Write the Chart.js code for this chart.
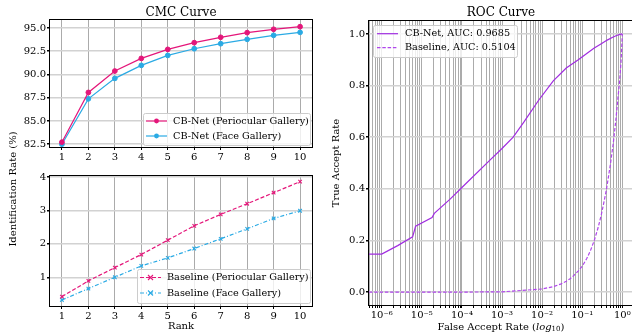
<!DOCTYPE html>
<html>
<head>
<meta charset="utf-8">
<script src="https://cdn.jsdelivr.net/npm/chart.js@4.4.0/dist/chart.umd.min.js"></script>
<style>
  body { margin: 0; background: #fff; width: 632px; height: 333px; position: relative; overflow: hidden; }
  canvas { position: absolute; }
</style>
</head>
<body>
<canvas id="cmcTop" width="320" height="165" style="left:0;top:0"></canvas>
<canvas id="cmcBottom" width="320" height="168" style="left:0;top:165px"></canvas>
<canvas id="roc" width="316" height="333" style="left:320px;top:0"></canvas>
<canvas id="ylab" width="26" height="333" style="left:0;top:0"></canvas>
<script>
// ---- data ----
const ranks = [1, 2, 3, 4, 5, 6, 7, 8, 9, 10];
const cbnetPeriocular = [82.72, 88.07, 90.37, 91.73, 92.70, 93.42, 94.00, 94.50, 94.86, 95.14];
const cbnetFace = [82.50, 87.38, 89.58, 90.98, 92.05, 92.77, 93.31, 93.78, 94.21, 94.53];
const baselinePeriocular = [0.42, 0.89, 1.29, 1.68, 2.11, 2.54, 2.88, 3.20, 3.53, 3.86];
const baselineFace = [0.32, 0.66, 1.00, 1.34, 1.58, 1.86, 2.15, 2.45, 2.76, 2.99];

const cmcTopTicks = [82.5, 85, 87.5, 90, 92.5, 95];
const cmcBottomTicks = [1, 2, 3, 4];

const cbnetFar = [4.8e-7, 1e-6, 2.5e-6, 5.9e-6, 7.0e-6, 1.8e-5, 2.05e-5, 5e-5, 1e-4, 5e-4,
  1e-3, 1.9e-3, 3.5e-3, 8.2e-3, 1.9e-2, 4e-2, 0.08, 0.13, 0.2, 0.3, 0.42, 0.56, 0.72, 0.88, 1.0];
const cbnetTar = [0.147, 0.147, 0.18, 0.214, 0.255, 0.289, 0.305, 0.359, 0.405, 0.511,
  0.556, 0.6, 0.658, 0.743, 0.818, 0.868, 0.9, 0.924, 0.945, 0.962, 0.976, 0.986, 0.994, 0.998, 1.0];
const baselineFar = [4.8e-7, 1e-4, 1e-3, 1e-2, 2e-2, 3e-2, 4e-2, 5e-2, 6e-2, 8e-2, 0.1, 0.13, 0.16, 0.2,
  0.25, 0.3, 0.35, 0.4, 0.5, 0.6, 0.7, 0.77, 0.83, 0.88, 0.93, 0.97, 1.0];
const baselineTar = [0, 0, 0.001, 0.012, 0.022, 0.032, 0.042, 0.052, 0.062, 0.082, 0.1, 0.13, 0.16, 0.2,
  0.25, 0.3, 0.35, 0.395, 0.49, 0.58, 0.675, 0.745, 0.795, 0.84, 0.895, 0.95, 1.0];

const rocYTicks = [0, 0.2, 0.4, 0.6, 0.8, 1.0];
const rocDecades = [1e-7, 1e-6, 1e-5, 1e-4, 1e-3, 1e-2, 1e-1, 1];
const rocMinorSteps = [1, 2, 3, 4, 5, 6, 7, 8, 9];

// ---- styles ----
const serif = '"DejaVu Serif", serif';
Chart.defaults.font.family = serif;
Chart.defaults.font.size = 10;
Chart.defaults.color = '#000';

const PINK = 'rgb(228, 22, 122)';
const BLUE = 'rgb(42, 170, 228)';
const PURPLE = 'rgb(160, 45, 224)';
const PURPLE_LIGHT = 'rgb(176, 70, 236)';
const VGRID = '#ababab';
const HGRID = '#d2d2d2';

const pts = (xs, ys) => xs.map((x, i) => ({ x, y: ys[i] }));

// shared y label of the two CMC panels
(() => {
  const c = document.getElementById('ylab').getContext('2d');
  c.fillStyle = '#000';
  c.font = '10px ' + serif;
  c.textAlign = 'center';
  c.textBaseline = 'middle';
  c.translate(13, 189);
  c.rotate(-Math.PI / 2);
  c.fillText('Identification Rate (%)', 0, 0);
})();

function drawMarker(ctx, style, x, y, r, color, bw) {
  ctx.save();
  ctx.setLineDash([]);
  ctx.strokeStyle = color;
  ctx.fillStyle = color;
  ctx.lineWidth = bw;
  ctx.beginPath();
  if (style === 'crossRot') {
    ctx.moveTo(x - r, y - r); ctx.lineTo(x + r, y + r);
    ctx.moveTo(x - r, y + r); ctx.lineTo(x + r, y - r);
    ctx.stroke();
  } else {
    ctx.arc(x, y, r, 0, Math.PI * 2);
    ctx.fill();
  }
  ctx.restore();
}

// legend box in the style of matplotlib, placed relative to the chart area
function legendPlugin(o) {
  return {
    id: 'boxLegend',
    afterDraw(chart) {
      const { ctx, chartArea: a } = chart;
      const x0 = o.anchor === 'tl' ? a.left + o.insetX : a.right - o.insetX - o.w;
      const y0 = o.anchor === 'tl' ? a.top + o.insetY : a.bottom - o.insetY - o.h;
      ctx.save();
      ctx.beginPath();
      ctx.roundRect(Math.round(x0) + 0.5, Math.round(y0) + 0.5, o.w, o.h, 2);
      ctx.fillStyle = 'rgba(255,255,255,0.8)';
      ctx.fill();
      ctx.strokeStyle = '#cccccc';
      ctx.lineWidth = 1;
      ctx.stroke();
      ctx.font = '9.7px ' + serif;
      ctx.textBaseline = 'middle';
      ctx.textAlign = 'left';
      chart.data.datasets.forEach((ds, i) => {
        const y = y0 + o.rowTop + i * o.rowGap;
        const lx = x0 + o.lineLeft, lx1 = lx + 21;
        ctx.strokeStyle = ds.borderColor;
        ctx.lineWidth = ds.borderWidth;
        ctx.setLineDash(ds.borderDash || []);
        ctx.beginPath();
        ctx.moveTo(lx, y);
        ctx.lineTo(lx1, y);
        ctx.stroke();
        ctx.setLineDash([]);
        if (ds.pointRadius > 0) {
          drawMarker(ctx, ds.pointStyle, (lx + lx1) / 2, y, ds.pointRadius, ds.borderColor, ds.pointBorderWidth);
        }
        ctx.fillStyle = '#000';
        ctx.fillText(ds.label, lx1 + o.textGap, y);
      });
      ctx.restore();
    }
  };
}

// black frame round the axes, title and axis texts
function framePlugin(title, extra) {
  return {
    id: 'frameText',
    afterDatasetsDraw(chart) {
      const { ctx, chartArea: a } = chart;
      ctx.save();
      ctx.strokeStyle = '#000';
      ctx.lineWidth = 1;
      const l = Math.round(a.left) - 0.5, t = Math.round(a.top) - 0.5;
      const r = Math.round(a.right) + 0.5, b = Math.round(a.bottom) + 0.5;
      ctx.strokeRect(l, t, r - l, b - t);
      ctx.restore();
    },
    afterDraw(chart) {
      const { ctx, chartArea: a } = chart;
      ctx.save();
      ctx.fillStyle = '#000';
      ctx.textAlign = 'center';
      ctx.textBaseline = 'middle';
      if (title) {
        ctx.font = '12px ' + serif;
        ctx.fillText(title, (a.left + a.right) / 2, 13);
      }
      if (extra) extra(ctx, a);
      ctx.restore();
    }
  };
}

function cmcScales(yTicks, yMin, yMax, xHeight) {
  return {
    x: {
      type: 'linear', min: 0.55, max: 10.45,
      afterBuildTicks: (s) => { s.ticks = ranks.map(v => ({ value: v })); },
      afterFit: (s) => { s.height = xHeight; },
      ticks: { autoSkip: false, maxRotation: 0, padding: 1, callback: (v) => String(v) },
      grid: { color: VGRID, lineWidth: 1, tickColor: '#000', tickLength: 3 },
      border: { display: false }
    },
    y: {
      min: yMin, max: yMax,
      afterBuildTicks: (s) => { s.ticks = yTicks.map(v => ({ value: v })); },
      afterFit: (s) => { s.width = 50; },
      ticks: { autoSkip: false, padding: 1,
        callback: (v) => (yTicks[yTicks.length - 1] > 10 ? v.toFixed(1) : String(v)) },
      grid: { color: HGRID, lineWidth: 1.5, tickColor: '#000', tickLength: 3 },
      border: { display: false }
    }
  };
}

new Chart(document.getElementById('cmcTop'), {
  type: 'line',
  data: {
    datasets: [
      { label: 'CB-Net (Periocular Gallery)', data: pts(ranks, cbnetPeriocular),
        borderColor: PINK, backgroundColor: PINK, borderWidth: 1.2,
        pointStyle: 'circle', pointRadius: 2.4, pointBorderWidth: 1 },
      { label: 'CB-Net (Face Gallery)', data: pts(ranks, cbnetFace),
        borderColor: BLUE, backgroundColor: BLUE, borderWidth: 1.2,
        pointStyle: 'circle', pointRadius: 2.4, pointBorderWidth: 1 }
    ]
  },
  options: {
    responsive: false, animation: false, events: [],
    layout: { padding: { top: 20, right: 8, left: 0, bottom: 0 } },
    plugins: { legend: { display: false }, tooltip: { enabled: false } },
    scales: cmcScales(cmcTopTicks, 82.2, 95.86, 18)
  },
  plugins: [
    framePlugin('CMC Curve'),
    legendPlugin({ anchor: 'br', insetX: 2, insetY: 2, w: 167, h: 32, rowTop: 8, rowGap: 15, lineLeft: 3, textGap: 6 })
  ]
});

new Chart(document.getElementById('cmcBottom'), {
  type: 'line',
  data: {
    datasets: [
      { label: 'Baseline (Periocular Gallery)', data: pts(ranks, baselinePeriocular),
        borderColor: PINK, backgroundColor: PINK, borderWidth: 1.2, borderDash: [4, 2],
        pointStyle: 'crossRot', pointRadius: 2.5, pointBorderWidth: 1.1 },
      { label: 'Baseline (Face Gallery)', data: pts(ranks, baselineFace),
        borderColor: BLUE, backgroundColor: BLUE, borderWidth: 1.2, borderDash: [4, 2, 1, 2],
        pointStyle: 'crossRot', pointRadius: 2.5, pointBorderWidth: 1.1 }
    ]
  },
  options: {
    responsive: false, animation: false, events: [],
    layout: { padding: { top: 11, right: 8, left: 0, bottom: 0 } },
    plugins: { legend: { display: false }, tooltip: { enabled: false } },
    scales: cmcScales(cmcBottomTicks, 0.14, 4.03, 27)
  },
  plugins: [
    framePlugin(null, (ctx, a) => {
      ctx.font = '10px ' + serif;
      ctx.fillText('Rank', (a.left + a.right) / 2, 161);
    }),
    legendPlugin({ anchor: 'br', insetX: 2, insetY: 3, w: 173, h: 34, rowTop: 8.5, rowGap: 15.5, lineLeft: 3, textGap: 6 })
  ]
});

const supMap = { '-': '⁻', '0': '⁰', '1': '¹', '2': '²', '3': '³', '4': '⁴', '5': '⁵', '6': '⁶', '7': '⁷', '8': '⁸', '9': '⁹' };
const rocMin = Math.pow(10, -6.317), rocMax = Math.pow(10, 0.267);

new Chart(document.getElementById('roc'), {
  type: 'line',
  data: {
    datasets: [
      { label: 'CB-Net, AUC: 0.9685', data: pts(cbnetFar, cbnetTar),
        borderColor: PURPLE, borderWidth: 1.2, pointRadius: 0, tension: 0 },
      { label: 'Baseline, AUC: 0.5104', data: pts(baselineFar, baselineTar),
        borderColor: PURPLE_LIGHT, borderWidth: 1.2, borderDash: [3.5, 1.8], pointRadius: 0, tension: 0 }
    ]
  },
  options: {
    responsive: false, animation: false, events: [],
    layout: { padding: { top: 21, right: 3, left: 0, bottom: 0 } },
    plugins: { legend: { display: false }, tooltip: { enabled: false } },
    scales: {
      x: {
        type: 'logarithmic', min: rocMin, max: rocMax,
        afterBuildTicks: (s) => {
          const t = [];
          rocDecades.forEach(d => rocMinorSteps.forEach(m => {
            const v = d * m;
            if (v >= rocMin && v <= rocMax) t.push({ value: v, major: m === 1 });
          }));
          s.ticks = t;
        },
        afterFit: (s) => { s.height = 28; },
        ticks: {
          autoSkip: false, maxRotation: 0, padding: 1,
          callback: (v) => {
            const e = Math.log10(v);
            if (Math.abs(e - Math.round(e)) > 1e-6) return '';
            return '10' + String(Math.round(e)).split('').map(c => supMap[c]).join('');
          }
        },
        grid: { color: VGRID, lineWidth: 1, tickColor: '#000', tickLength: 3 },
        border: { display: false }
      },
      y: {
        min: -0.05, max: 1.05,
        afterBuildTicks: (s) => { s.ticks = rocYTicks.map(v => ({ value: v })); },
        afterFit: (s) => { s.width = 49; },
        ticks: { autoSkip: false, padding: 1, callback: (v) => v.toFixed(1) },
        grid: { color: HGRID, lineWidth: 1.5, tickColor: '#000', tickLength: 3 },
        border: { display: false }
      }
    }
  },
  plugins: [
    framePlugin('ROC Curve', (ctx, a) => {
      ctx.font = '10px ' + serif;
      // y axis title
      ctx.save();
      ctx.translate(16, (a.top + a.bottom) / 2);
      ctx.rotate(-Math.PI / 2);
      ctx.fillText('True Accept Rate', 0, 0);
      ctx.restore();
      // x axis title with italic log and subscript 10
      const parts = [
        { t: 'False Accept Rate (', f: '10px ' + serif, dy: 0 },
        { t: 'log', f: 'italic 10px ' + serif, dy: 0 },
        { t: '10', f: '7px ' + serif, dy: 2.5 },
        { t: ')', f: '10px ' + serif, dy: 0 }
      ];
      let total = 0;
      parts.forEach(p => { ctx.font = p.f; p.w = ctx.measureText(p.t).width; total += p.w; });
      let x = (a.left + a.right) / 2 - total / 2;
      ctx.textAlign = 'left';
      parts.forEach(p => { ctx.font = p.f; ctx.fillText(p.t, x, 327 + p.dy); x += p.w; });
    }),
    legendPlugin({ anchor: 'tl', insetX: 4, insetY: 4, w: 144, h: 32, rowTop: 8.7, rowGap: 14, lineLeft: 4, textGap: 7 })
  ]
});
</script>
</body>
</html>
